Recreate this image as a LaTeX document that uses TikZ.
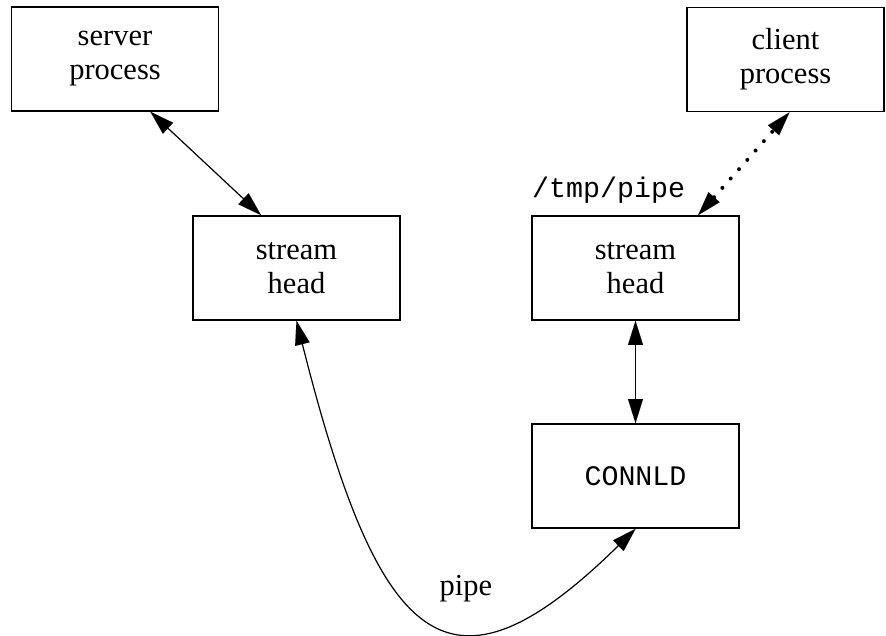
\documentclass[tikz,border=0pt]{standalone}
\usepackage{fontspec}
\setmainfont{Liberation Serif}
\newfontfamily\monofam{Liberation Mono}
\usetikzlibrary{arrows.meta,calc}
\newcommand{\monofnt}{\monofam\fontsize{28.3}{34}\selectfont}
\begin{document}
\begin{tikzpicture}[x=1pt,y=-1pt,
  box/.style={draw,line width=1.7pt,minimum width=207pt,minimum height=104pt,
    inner sep=0pt,align=center,font=\fontsize{30.5}{34}\selectfont},
  tipA/.tip={Triangle[length=24pt,width=15pt,line width=0.01pt]},
  biarrow/.style={line width=1.2pt,tipA-tipA},
  dotarrow/.style={line width=4pt,dash pattern=on 0pt off 12.5pt,line cap=round,tipA-tipA},
  lbl/.style={inner sep=0pt,font=\fontsize{30.5}{34}\selectfont}
]
\useasboundingbox (0,0) rectangle (886,635);
\node[box] (srv) at (115,59) {server\\process};
\node[box,minimum width=197pt] (cli) at (785.5,59.5) {client\\process};
\node[box] (sha) at (296.5,268) {stream\\head};
\node[box] (shb) at (635.5,268) {stream\\head};
\node[box,font=\monofnt] (cnl) at (635.5,476) {CONNLD};
\node[inner sep=0pt,anchor=base west,font=\monofnt] (tmp) at (532,197) {/tmp/pipe};
\node[lbl,anchor=base] (pipe) at (466,595) {pipe};
\draw[biarrow] ($(srv.south west)!0.67!(srv.south east)$) -- ($(sha.north west)!0.33!(sha.north east)$);
\draw[dotarrow] ($(shb.north west)!0.80!(shb.north east)$) -- ($(cli.south west)!0.52!(cli.south east)$);
\draw[biarrow] (shb.south) -- (cnl.north);
\draw[biarrow] (sha.south) .. controls (379.5,650) and (449,712) .. (cnl.south);
\end{tikzpicture}
\end{document}
